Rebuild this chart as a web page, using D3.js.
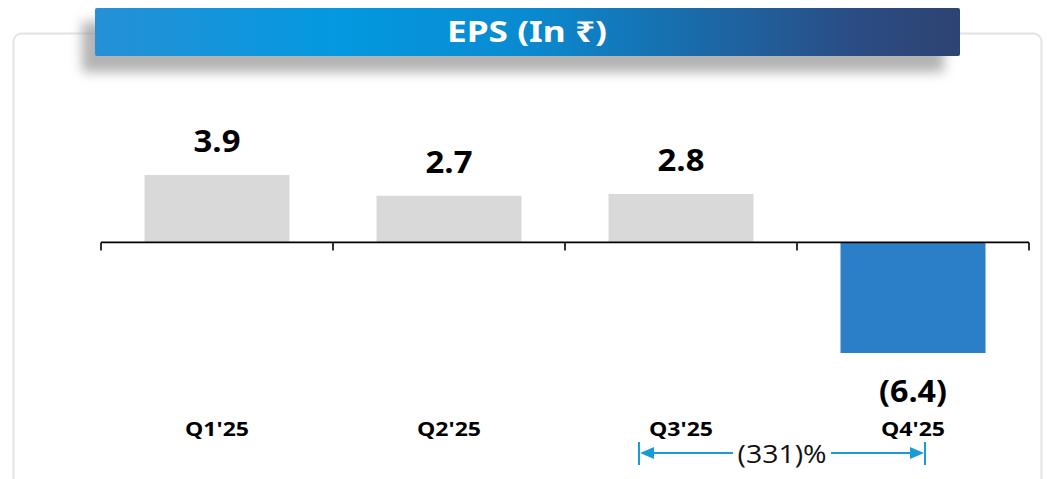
<!DOCTYPE html>
<html>
<head>
<meta charset="utf-8">
<script src="https://cdn.jsdelivr.net/npm/d3@7"></script>
<style>
  html, body { margin: 0; padding: 0; background: #fff; }
  svg { display: block; }
</style>
</head>
<body>
<svg id="chart" width="1051" height="479"></svg>
<script>
const categories = ["Q1'25", "Q2'25", "Q3'25", "Q4'25"];
const values = [3.9, 2.7, 2.8, -6.4];
const valueLabels = ["3.9", "2.7", "2.8", "(6.4)"];
const titleText = "EPS (In ₹)";
const changeLabel = "(331)%";
const changeFrom = "Q3'25";
const changeTo = "Q4'25";

const svg = d3.select("#chart");
const W = 1051, H = 479;
const defs = svg.append("defs");

// Card
svg.append("rect")
  .attr("x", 13.5).attr("y", 33.5)
  .attr("width", 1028).attr("height", 480)
  .attr("rx", 8)
  .attr("fill", "#fff")
  .attr("stroke", "#e3e3e3")
  .attr("stroke-width", 2);

// Banner shadow
const blur = defs.append("filter").attr("id", "blur")
  .attr("x", "-10%").attr("y", "-50%").attr("width", "120%").attr("height", "200%");
blur.append("feGaussianBlur").attr("stdDeviation", 6);
svg.append("rect")
  .attr("x", 82).attr("y", 22).attr("width", 862).attr("height", 50)
  .attr("fill", "#9a9a9a").attr("opacity", 0.75)
  .attr("filter", "url(#blur)");

// Banner gradient
const grad = defs.append("linearGradient").attr("id", "bannerGrad")
  .attr("x1", "0%").attr("x2", "100%").attr("y1", "0%").attr("y2", "0%");
[["0%", "#2690d6"], ["28%", "#0399e0"], ["50%", "#0a8ad0"], ["70%", "#1a6aa8"], ["88%", "#2b4c84"], ["100%", "#2e4372"]]
  .forEach(([o, c]) => grad.append("stop").attr("offset", o).attr("stop-color", c));
svg.append("rect")
  .attr("x", 95).attr("y", 8).attr("width", 865).attr("height", 48)
  .attr("rx", 2)
  .attr("fill", "url(#bannerGrad)");
svg.append("text")
  .attr("x", 527).attr("y", 42)
  .attr("text-anchor", "middle")
  .attr("font-family", "'Noto Sans', 'DejaVu Sans', sans-serif")
  .attr("font-weight", 700)
  .attr("font-size", 29)
  .attr("fill", "#fff")
  .attr("textLength", 160)
  .attr("lengthAdjust", "spacingAndGlyphs")
  .text(titleText);

// Scales
const x = d3.scaleBand()
  .domain(categories)
  .range([101, 1029])
  .paddingInner(0.375)
  .paddingOuter(0.1875);
const y = d3.scaleLinear()
  .domain([d3.min(values), d3.max(values)])
  .range([353, 175]);
const y0 = y(0);

// Bars
svg.append("g").selectAll("rect")
  .data(values)
  .join("rect")
  .attr("x", (d, i) => x(categories[i]))
  .attr("width", x.bandwidth())
  .attr("y", d => Math.min(y(d), y0))
  .attr("height", d => Math.abs(y(d) - y0))
  .attr("fill", d => d < 0 ? "#2a7fc8" : "#d9d9d9");

// Axis line with tick marks at band boundaries
const step = x.step();
const r0 = x.range()[0];
const boundaries = d3.range(categories.length + 1).map(i => r0 + i * step);
const axis = svg.append("g").attr("stroke", "#000").attr("stroke-width", 1.6).attr("fill", "none");
axis.append("line")
  .attr("x1", boundaries[0]).attr("x2", boundaries[boundaries.length - 1])
  .attr("y1", y0).attr("y2", y0);
axis.selectAll("line.tick")
  .data(boundaries)
  .join("line")
  .attr("class", "tick")
  .attr("x1", d => d).attr("x2", d => d)
  .attr("y1", y0).attr("y2", y0 + 8);

// Value labels
svg.append("g").selectAll("text")
  .data(values)
  .join("text")
  .attr("x", (d, i) => x(categories[i]) + x.bandwidth() / 2)
  .attr("y", d => d < 0 ? y(d) + 49 : y(d) - 23)
  .attr("text-anchor", "middle")
  .attr("font-family", "'Open Sans', 'Noto Sans', sans-serif")
  .attr("font-weight", 700)
  .attr("font-size", 31)
  .attr("fill", "#000")
  .attr("textLength", (d, i) => valueLabels[i].length > 3 ? 68 : 47)
  .attr("lengthAdjust", "spacingAndGlyphs")
  .text((d, i) => valueLabels[i]);

// Category labels
svg.append("g").selectAll("text")
  .data(categories)
  .join("text")
  .attr("x", d => x(d) + x.bandwidth() / 2)
  .attr("y", 436)
  .attr("text-anchor", "middle")
  .attr("font-family", "'Open Sans', 'Noto Sans', sans-serif")
  .attr("font-weight", 700)
  .attr("font-size", 20)
  .attr("fill", "#000")
  .attr("textLength", 64)
  .attr("lengthAdjust", "spacingAndGlyphs")
  .text(d => d);

// Change annotation
const ax1 = x(changeFrom) + x.bandwidth() / 2 - 42;
const ax2 = x(changeTo) + x.bandwidth() / 2 + 12;
const ay = 453;
const aColor = "#1b9ad8";
const tx = (ax1 + ax2) / 2 - 0;
const ann = svg.append("g");
ann.append("line").attr("x1", ax1 + 12).attr("x2", tx - 49).attr("y1", ay).attr("y2", ay)
  .attr("stroke", aColor).attr("stroke-width", 2);
ann.append("line").attr("x1", tx + 49).attr("x2", ax2 - 12).attr("y1", ay).attr("y2", ay)
  .attr("stroke", aColor).attr("stroke-width", 2);
[ax1, ax2].forEach(v => {
  ann.append("line").attr("x1", v).attr("x2", v).attr("y1", ay - 11).attr("y2", ay + 12)
    .attr("stroke", aColor).attr("stroke-width", 2);
});
ann.append("path")
  .attr("d", `M${ax1 + 1},${ay} L${ax1 + 15},${ay - 6} L${ax1 + 15},${ay + 6} Z`)
  .attr("fill", aColor);
ann.append("path")
  .attr("d", `M${ax2 - 1},${ay} L${ax2 - 15},${ay - 6} L${ax2 - 15},${ay + 6} Z`)
  .attr("fill", aColor);
ann.append("text")
  .attr("x", tx).attr("y", 463)
  .attr("text-anchor", "middle")
  .attr("font-family", "'Open Sans', 'Noto Sans', sans-serif")
  .attr("font-size", 25)
  .attr("fill", "#111")
  .attr("textLength", 89)
  .attr("lengthAdjust", "spacingAndGlyphs")
  .text(changeLabel);
</script>
</body>
</html>
